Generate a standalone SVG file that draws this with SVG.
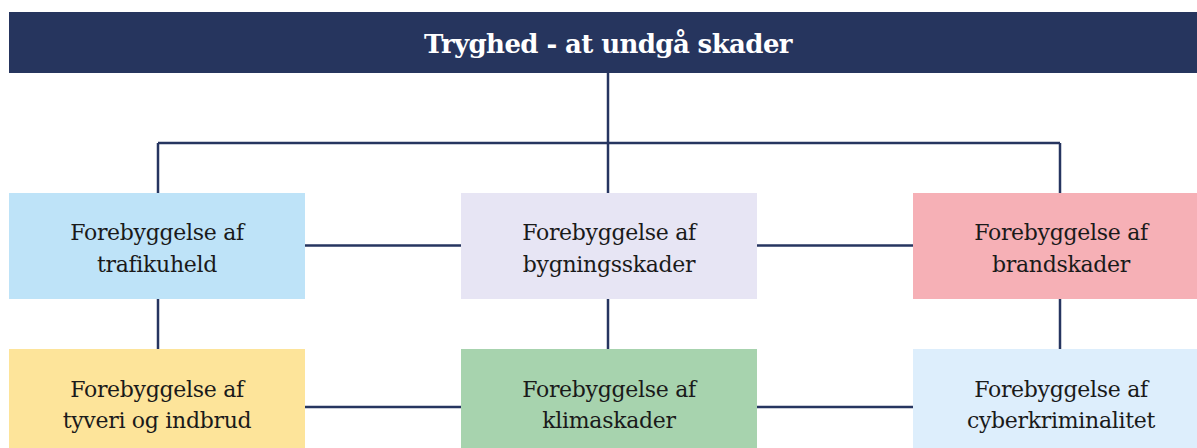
<svg xmlns="http://www.w3.org/2000/svg" width="1197" height="448" viewBox="0 0 1197 448">
  <style>
    .conn { stroke: #263560; stroke-width: 2.5; fill: none; }
    .lbl { font-family: "DejaVu Serif", "Liberation Serif", serif; font-size: 22px; letter-spacing: -0.3px; fill: #1a1a1a; text-anchor: middle; }
    .title { font-family: "DejaVu Serif", "Liberation Serif", serif; font-size: 26px; letter-spacing: -0.6px; font-weight: bold; fill: #ffffff; text-anchor: middle; }
  </style>
  <rect width="1197" height="448" fill="#ffffff"/>
  <g id="connectors">
    <line class="conn" x1="608" y1="73" x2="608" y2="193"/>
    <line class="conn" x1="158" y1="143" x2="1060" y2="143"/>
    <line class="conn" x1="158" y1="143" x2="158" y2="193"/>
    <line class="conn" x1="1060" y1="143" x2="1060" y2="193"/>
    <line class="conn" x1="305" y1="245.5" x2="461" y2="245.5"/>
    <line class="conn" x1="757" y1="245.5" x2="913" y2="245.5"/>
    <line class="conn" x1="158" y1="298" x2="158" y2="349"/>
    <line class="conn" x1="608" y1="298" x2="608" y2="349"/>
    <line class="conn" x1="1060" y1="298" x2="1060" y2="349"/>
    <line class="conn" x1="305" y1="407" x2="461" y2="407"/>
    <line class="conn" x1="757" y1="407" x2="913" y2="407"/>
  </g>
  <g id="title">
    <rect x="9" y="12" width="1198" height="61" fill="#26355E"/>
    <text class="title" x="608" y="53">Tryghed - at undgå skader</text>
  </g>
  <g id="trafikuheld">
    <rect x="9" y="193" width="296" height="106" fill="#BEE3F8"/>
    <text class="lbl" x="157" y="240">Forebyggelse af</text>
    <text class="lbl" x="157" y="272">trafikuheld</text>
  </g>
  <g id="bygningsskader">
    <rect x="461" y="193" width="296" height="106" fill="#E7E5F4"/>
    <text class="lbl" x="609" y="240">Forebyggelse af</text>
    <text class="lbl" x="609" y="272">bygningsskader</text>
  </g>
  <g id="brandskader">
    <rect x="913" y="193" width="296" height="106" fill="#F6B0B6"/>
    <text class="lbl" x="1061" y="240">Forebyggelse af</text>
    <text class="lbl" x="1061" y="272">brandskader</text>
  </g>
  <g id="tyveri">
    <rect x="9" y="349" width="296" height="106" fill="#FDE49A"/>
    <text class="lbl" x="157" y="397">Forebyggelse af</text>
    <text class="lbl" x="157" y="428">tyveri og indbrud</text>
  </g>
  <g id="klimaskader">
    <rect x="461" y="349" width="296" height="106" fill="#A7D3AE"/>
    <text class="lbl" x="609" y="397">Forebyggelse af</text>
    <text class="lbl" x="609" y="428">klimaskader</text>
  </g>
  <g id="cyberkriminalitet">
    <rect x="913" y="349" width="296" height="106" fill="#DDEEFC"/>
    <text class="lbl" x="1061" y="397">Forebyggelse af</text>
    <text class="lbl" x="1061" y="428">cyberkriminalitet</text>
  </g>
</svg>
